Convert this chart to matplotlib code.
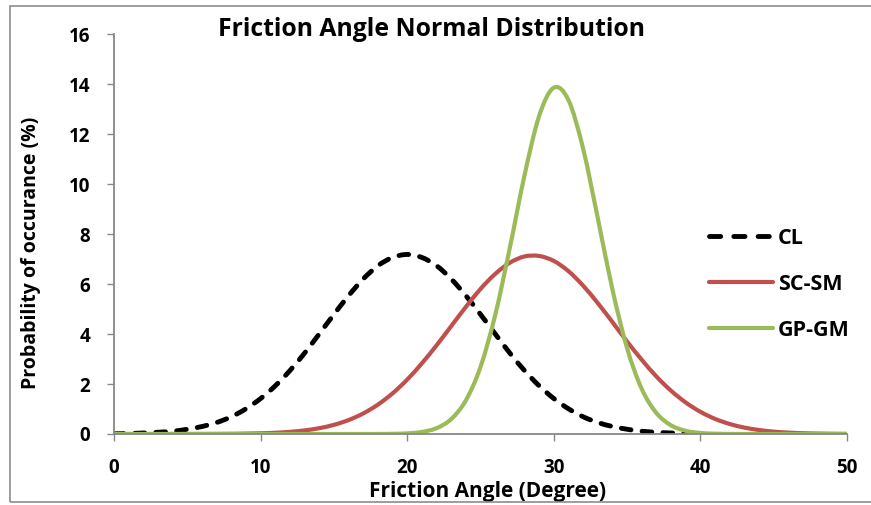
import numpy as np
import matplotlib.pyplot as plt
from matplotlib.path import Path
from matplotlib.patches import PathPatch, Rectangle
from matplotlib.lines import Line2D

plt.rcParams['font.family'] = ['Open Sans', 'DejaVu Sans']
plt.rcParams['font.weight'] = 'bold'

# friction angle (degree) and probability of occurance (%)
cl_angle = list(range(0, 41))
cl_prob = [0.01, 0.02, 0.04, 0.07, 0.11, 0.19, 0.30, 0.46, 0.69, 1.01,
           1.42, 1.93, 2.54, 3.24, 4.01, 4.79, 5.54, 6.21, 6.74, 7.07,
           7.19, 7.07, 6.74, 6.21, 5.54, 4.79, 4.01, 3.24, 2.54, 1.93,
           1.42, 1.01, 0.69, 0.46, 0.30, 0.19, 0.11, 0.07, 0.04, 0.02,
           0.01]

scsm_angle = list(range(0, 51))
scsm_prob = [0.0, 0.0, 0.0, 0.0, 0.0, 0.001, 0.002, 0.004, 0.008, 0.016,
             0.028, 0.049, 0.086, 0.144, 0.233, 0.367, 0.558, 0.824, 1.177, 1.627,
             2.18, 2.83, 3.55, 4.32, 5.09, 5.81, 6.41, 6.86, 7.11, 7.13,
             6.93, 6.52, 5.94, 5.24, 4.48, 3.70, 2.97, 2.30, 1.73, 1.26,
             0.887, 0.605, 0.400, 0.256, 0.159, 0.095, 0.055, 0.031, 0.017, 0.009,
             0.004]

gpgm_angle = list(range(0, 51))
gpgm_prob = [0.0, 0.0, 0.0, 0.0, 0.0, 0.0, 0.0, 0.0, 0.0, 0.0,
             0.0, 0.0, 0.0, 0.0, 0.0, 0.0, 0.0, 0.0, 0.002, 0.007,
             0.025, 0.081, 0.234, 0.597, 1.347, 2.69, 4.76, 7.46, 10.36, 12.74,
             13.87, 13.37, 11.42, 8.64, 5.78, 3.43, 1.80, 0.839, 0.346, 0.126,
             0.041, 0.012, 0.003, 0.0, 0.0, 0.0, 0.0, 0.0, 0.0, 0.0,
             0.0]

series = [
    ('CL', cl_angle, cl_prob, 'black', (0, (2.0, 2.3))),
    ('SC-SM', scsm_angle, scsm_prob, '#C0504D', '-'),
    ('GP-GM', gpgm_angle, gpgm_prob, '#9BBB59', '-'),
]


def smooth_path(x, y):
    """Catmull-Rom style cubic bezier path through the points (like a smoothed line)."""
    p = np.column_stack([x, y]).astype(float)
    p_ext = np.vstack([p[0], p, p[-1]])
    verts = [p[0]]
    codes = [Path.MOVETO]
    for i in range(1, len(p_ext) - 2):
        p0, p1, p2, p3 = p_ext[i - 1], p_ext[i], p_ext[i + 1], p_ext[i + 2]
        c1 = p1 + (p2 - p0) / 6.0
        c2 = p2 - (p3 - p1) / 6.0
        verts += [c1, c2, p2]
        codes += [Path.CURVE4] * 3
    return Path(verts, codes)


fig = plt.figure(figsize=(8.71, 5.05), dpi=100)
ax = fig.add_axes([0.1309, 0.1406, 0.8416, 0.7911])

handles = []
for name, xs, ys, color, ls in series:
    lw = 3.5 if name == 'CL' else 3.0
    patch = PathPatch(smooth_path(xs, ys), fill=False, edgecolor=color,
                      linewidth=lw, linestyle=ls, capstyle='round',
                      joinstyle='round', transform=ax.transData)
    ax.add_patch(patch)
    # legend key: three whole dashes for the dashed series
    key_ls = (0, (2.3, 2.7)) if name == 'CL' else ls
    handles.append(Line2D([], [], color=color, lw=lw, linestyle=key_ls,
                          dash_capstyle='round', solid_capstyle='round'))

ax.set_xlim(0, 50)
ax.set_ylim(0, 16)
ax.set_xticks([0, 10, 20, 30, 40, 50])
ax.set_yticks(range(0, 17, 2))

for side in ['top', 'right']:
    ax.spines[side].set_visible(False)
for side in ['left', 'bottom']:
    ax.spines[side].set_color('#878787')
    ax.spines[side].set_linewidth(1.3)
ax.tick_params(axis='both', direction='out', length=5, width=1.0,
               color='#878787', labelsize=13.5)
ax.tick_params(axis='x', pad=12)
ax.tick_params(axis='y', pad=12)

ax.set_xlabel('Friction Angle (Degree)', fontsize=15, fontweight='bold')
ax.xaxis.set_label_coords((488 - 114) / 733, -0.118)
ax.set_ylabel('Probability of occurance (%)', fontsize=14, fontweight='bold')
ax.yaxis.set_label_coords(-0.1, 0.453)
fig.text(431 / 871, 1 - 30 / 505, 'Friction Angle Normal Distribution',
         fontsize=17.8, fontweight='bold', ha='center', va='center')

leg = ax.legend(handles, [s[0] for s in series], loc='upper left',
                bbox_to_anchor=(0.785, 0.565), frameon=False, fontsize=15.5,
                handlelength=3.0, handletextpad=0.2, labelspacing=1.16)

# chart area border
fig.add_artist(Rectangle((10 / 871, 3 / 505), 1.0, 496 / 505, fill=False,
                         edgecolor='#8c8c8c', linewidth=1.2,
                         transform=fig.transFigure))

fig.savefig('out.png', dpi=100)
